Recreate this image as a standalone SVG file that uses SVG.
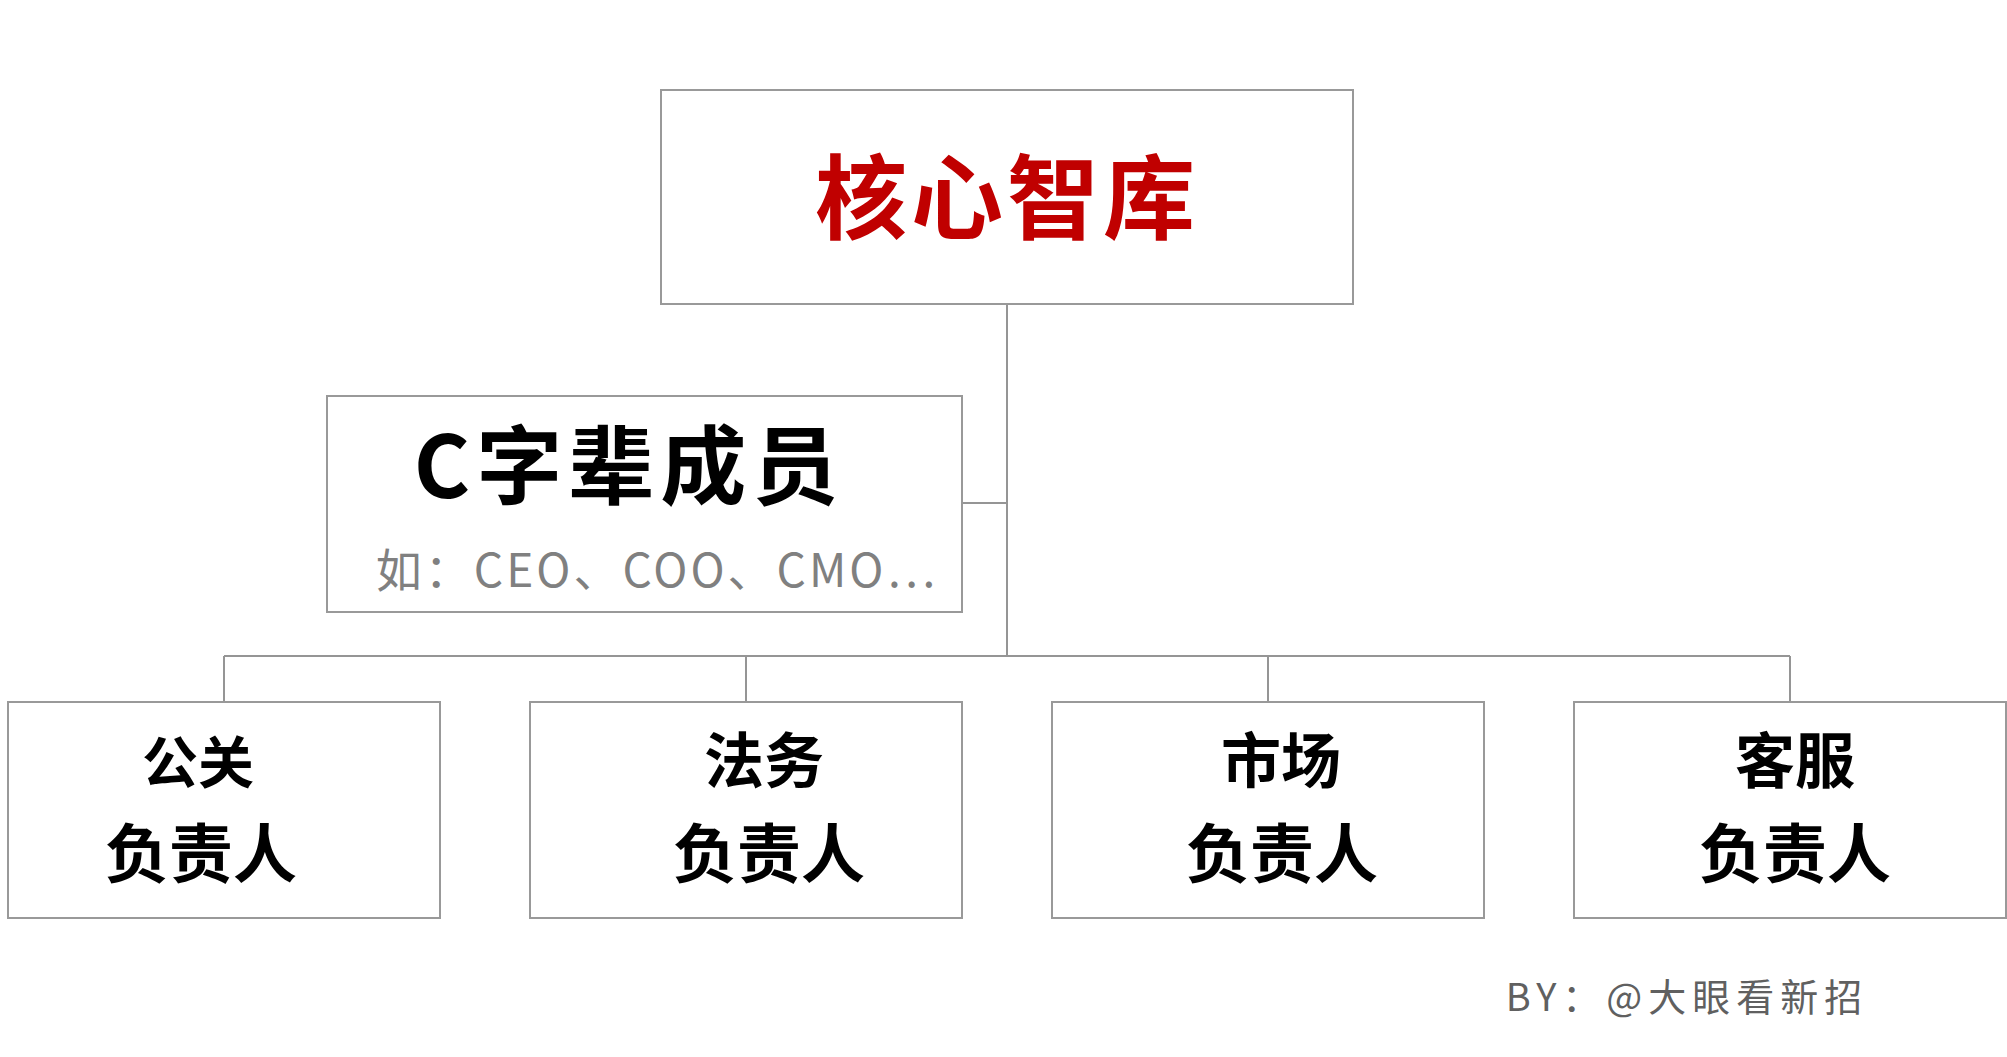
<svg xmlns="http://www.w3.org/2000/svg" width="2007" height="1057" viewBox="0 0 2007 1057">
<style>
.box{fill:#fff;stroke:#999;stroke-width:2}
.con line{stroke:#959595;stroke-width:2}
text{font-family:"Noto Sans CJK SC","Noto Sans",sans-serif;text-anchor:middle}
.t{fill:#000;font-weight:700}
</style>
<rect width="2007" height="1057" fill="#fff"/>
<g class="con" id="connectors">
<line x1="1007" y1="304" x2="1007" y2="656"/>
<line x1="962" y1="503" x2="1007" y2="503"/>
<line x1="224" y1="656" x2="1790" y2="656"/>
<line x1="224" y1="656" x2="224" y2="702"/>
<line x1="746" y1="656" x2="746" y2="702"/>
<line x1="1268" y1="656" x2="1268" y2="702"/>
<line x1="1790" y1="656" x2="1790" y2="702"/>
</g>
<g id="core">
<rect class="box" x="661" y="90" width="692" height="214"/>
<text x="1007" y="232" font-size="92" font-weight="700" fill="#C00000" letter-spacing="4">核心智库</text>
</g>
<g id="clevel">
<rect class="box" x="327" y="396" width="635" height="216"/>
<text class="t" x="629" y="498" font-size="86" letter-spacing="6">C字辈成员</text>
<text x="657" y="587" font-size="46" fill="#808080" letter-spacing="3">如：CEO、COO、CMO…</text>
</g>
<g id="pr">
<rect class="box" x="8" y="702" width="432" height="216"/>
<text class="t" x="198" y="783" font-size="56">公关</text>
<text class="t" x="201" y="877" font-size="64">负责人</text>
</g>
<g id="legal">
<rect class="box" x="530" y="702" width="432" height="216"/>
<text class="t" x="764" y="783" font-size="60">法务</text>
<text class="t" x="769" y="877" font-size="64">负责人</text>
</g>
<g id="market">
<rect class="box" x="1052" y="702" width="432" height="216"/>
<text class="t" x="1281" y="783" font-size="60">市场</text>
<text class="t" x="1282" y="877" font-size="64">负责人</text>
</g>
<g id="service">
<rect class="box" x="1574" y="702" width="432" height="216"/>
<text class="t" x="1795" y="783" font-size="60">客服</text>
<text class="t" x="1795" y="877" font-size="64">负责人</text>
</g>
<text x="1687" y="1011" font-size="38" fill="#606060" letter-spacing="6">BY：@大眼看新招</text>
</svg>
